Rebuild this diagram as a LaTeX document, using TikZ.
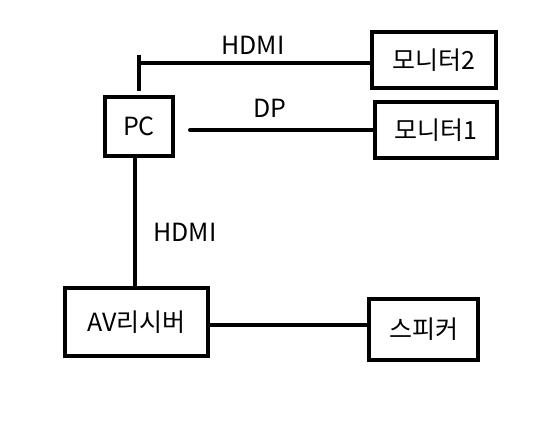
\documentclass[tikz,border=0pt]{standalone}
\usepackage{fontspec}
\newfontfamily\kr{Noto Sans CJK KR}
\usepackage{tikz}

\begin{document}
\begin{tikzpicture}[x=1pt,y=-1pt,
  box/.style={draw,line width=4pt,inner sep=0pt,font=\kr\fontsize{25}{25}\selectfont},
  wire/.style={line width=4pt},
  lbl/.style={font=\kr\fontsize{25}{25}\selectfont}]
\useasboundingbox[fill=white] (0,0) rectangle (559,420);
\node[box,minimum width=68pt,minimum height=59pt] (pc) at (139,126.5) {PC};
\node[box,minimum width=124pt,minimum height=56pt] (mon2) at (434,60) {모니터2};
\node[box,minimum width=122pt,minimum height=56pt] (mon1) at (436,130) {모니터1};
\node[box,minimum width=143pt,minimum height=68pt] (av) at (136.5,322) {AV리시버};
\node[box,minimum width=109pt,minimum height=61pt] (spk) at (423.5,329.5) {스피커};
\coordinate (hdtop) at (139,55);
\coordinate (hdcorner) at (139,63);
\coordinate (dpstart) at (190,130);
\draw[wire] ([yshift=4pt]pc.north) -- (hdtop);
\draw[wire] (hdcorner) -- (hdcorner -| mon2.west);
\draw[wire,line cap=round] (dpstart) -- (dpstart -| mon1.west);
\draw[wire] ([xshift=-4pt]pc.south) -- ([xshift=-4pt]pc.south |- av.north);
\draw[wire] ([yshift=-3pt]av.east) -- ([yshift=-3pt]av.east -| spk.west);
\node[lbl] (hdmi1) at (253,45) {HDMI};
\node[lbl] (dp) at (270,108) {DP};
\node[lbl] (hdmi2) at (185,232) {HDMI};
\end{tikzpicture}
\end{document}
